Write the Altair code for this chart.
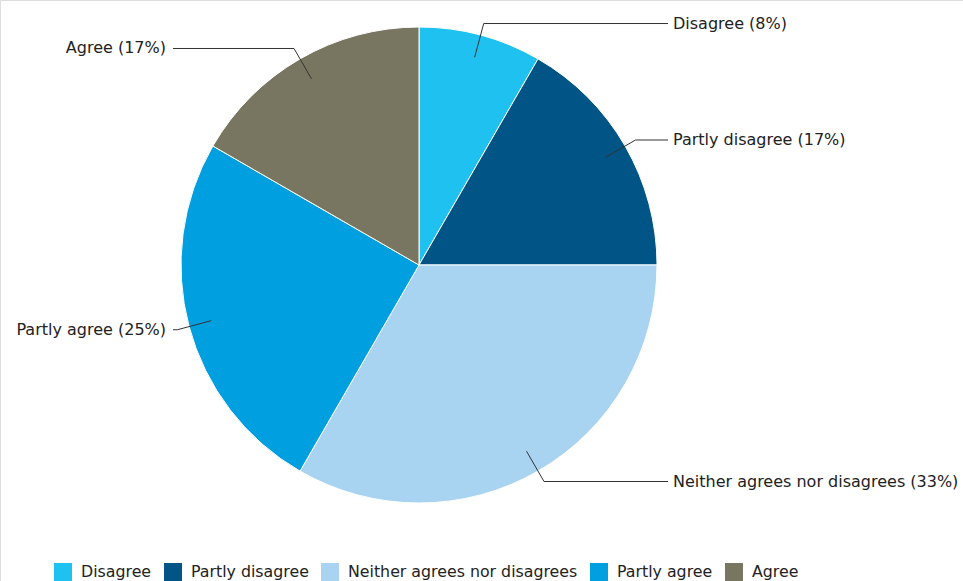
import altair as alt
import pandas as pd

# ---- data -------------------------------------------------------------
categories = ["Disagree", "Partly disagree", "Neither agrees nor disagrees",
              "Partly agree", "Agree"]
values = [1, 2, 4, 3, 2]
colors = ["#1FC1F0", "#005486", "#A8D4F2", "#009FE0", "#787661"]

df = pd.DataFrame({"category": categories, "value": values,
                   "order": list(range(len(categories)))})

# ---- layout constants -------------------------------------------------
W, H = 963, 581
CX, CY = 419, 265          # pie centre
R = 238                    # pie radius
R_IN = 215                 # leader line start radius
R_EL = 250                 # leader line elbow radius
X_RIGHT, X_LEFT = 668, 173 # horizontal end of leader lines
FONT = "DejaVu Sans"
TXT = "#222222"

xs = alt.Scale(domain=[0, W], range=[0, W], nice=False, zero=False)
ys = alt.Scale(domain=[0, H], range=[0, H], nice=False, zero=False)

base = (
    alt.Chart(df)
    .transform_joinaggregate(total="sum(value)")
    .transform_window(cum="sum(value)", sort=[alt.SortField("order")], frame=[None, 0])
    .transform_calculate(mid="(datum.cum - datum.value/2) / datum.total * 2 * PI")
    .transform_calculate(side="sin(datum.mid) >= 0 ? 1 : -1")
    .transform_calculate(x0=f"{CX} + {R_IN}*sin(datum.mid)")
    .transform_calculate(y0=f"{CY} - {R_IN}*cos(datum.mid)")
    .transform_calculate(x1=f"{CX} + {R_EL}*sin(datum.mid)")
    .transform_calculate(y1=f"{CY} - {R_EL}*cos(datum.mid)")
    .transform_calculate(x2=f"datum.side > 0 ? {X_RIGHT} : {X_LEFT}")
    .transform_calculate(
        label="datum.category + ' (' + format(datum.value / datum.total * 100, '.0f') + '%)'"
    )
)

pie = alt.Chart(df).mark_arc(outerRadius=R, stroke="white", strokeWidth=1).encode(
    theta=alt.Theta("value:Q", stack=True),
    color=alt.Color(
        "category:N",
        scale=alt.Scale(domain=categories, range=colors),
        sort=categories,
        legend=alt.Legend(
            title=None, orient="none", legendX=54, legendY=563,
            direction="horizontal", symbolType="square", symbolSize=324,
            symbolStrokeWidth=0, labelFontSize=15.8, labelFont=FONT,
            labelColor=TXT, columnPadding=12, labelOffset=9, labelLimit=0,
        ),
    ),
    order=alt.Order("order:Q"),
    x=alt.value(CX),
    y=alt.value(CY),
)

lines = (
    base.transform_fold(["x0", "x1", "x2"], as_=["key", "px"])
    .transform_calculate(py="datum.key == 'x0' ? datum.y0 : datum.y1")
    .transform_calculate(step="datum.key == 'x0' ? 0 : (datum.key == 'x1' ? 1 : 2)")
    .mark_line(color="#333333", strokeWidth=1)
    .encode(
        x=alt.X("px:Q", scale=xs, axis=None),
        y=alt.Y("py:Q", scale=ys, axis=None),
        detail="category:N",
        order="step:Q",
    )
)

text_right = (
    base.transform_filter("datum.side > 0")
    .transform_calculate(tx="datum.x2 + 5")
    .mark_text(align="left", baseline="middle", font=FONT, fontSize=16, color=TXT)
    .encode(x=alt.X("tx:Q", scale=xs, axis=None),
            y=alt.Y("y1:Q", scale=ys, axis=None),
            text="label:N")
)

text_left = (
    base.transform_filter("datum.side < 0")
    .transform_calculate(tx="datum.x2 - 7")
    .mark_text(align="right", baseline="middle", font=FONT, fontSize=16, color=TXT)
    .encode(x=alt.X("tx:Q", scale=xs, axis=None),
            y=alt.Y("y1:Q", scale=ys, axis=None),
            text="label:N")
)

chart = (
    alt.layer(pie, lines, text_right, text_left)
    .properties(width=W, height=H, padding=0, autosize=alt.AutoSizeParams(type="none"))
    .configure_view(stroke=None, strokeWidth=0)
    .configure(background="white")
)

chart.save("out.html", embed_options={"renderer": "svg", "actions": False})
